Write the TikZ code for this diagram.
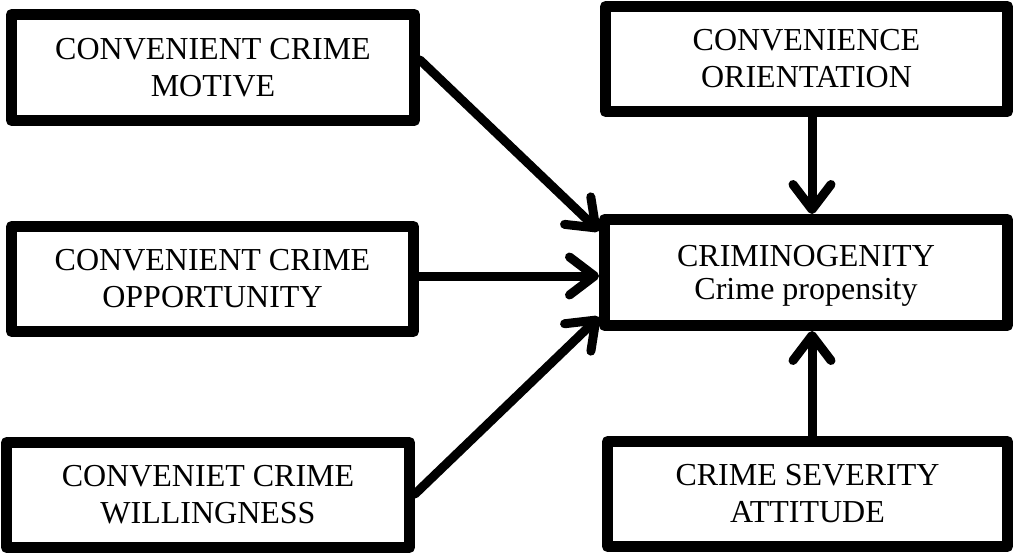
\documentclass[tikz,border=0pt]{standalone}
\usepackage{fontspec}
\setmainfont{Liberation Serif}
\usetikzlibrary{arrows.meta}
\begin{document}
\begin{tikzpicture}[x=1pt,y=-1pt,
  box/.style={draw=black, line width=11pt, line join=round, fill=white,
    minimum width=403pt, minimum height=106pt, inner sep=0pt,
    align=center, font=\fontsize{32}{37}\selectfont},
  arr/.style={line width=9pt, line cap=round,
    -{Straight Barb[length=25pt,width=38pt,line cap=round,line join=round]}}]
\useasboundingbox (0,0) rectangle (1015,554);
\node[box] (A) at (213,67.5) {CONVENIENT CRIME\\MOTIVE};
\node[box, minimum width=402pt, minimum height=105pt] (B) at (212.5,279) {CONVENIENT CRIME\\OPPORTUNITY};
\node[box, minimum height=105pt] (C) at (208,495) {CONVENIET CRIME\\WILLINGNESS};
\node[box, minimum width=402pt, minimum height=105pt] (D) at (806.5,59) {CONVENIENCE\\ORIENTATION};
\node[box, font=\fontsize{32}{33}\selectfont, text depth=0pt] (E) at (806,272.5) {CRIMINOGENITY\\Crime propensity};
\node[box, minimum width=400pt, minimum height=105pt] (F) at (807.5,494) {CRIME SEVERITY\\ATTITUDE};
\draw[arr] ([yshift=7.5pt]A.east) -- ([yshift=41.5pt]E.west);
\draw[arr] ([yshift=3pt]B.east) -- ([yshift=-3.5pt]E.west);
\draw[arr] ([yshift=1pt]C.east) -- ([yshift=-44.5pt]E.west);
\draw[arr] ([xshift=5.5pt]D.south) -- ([xshift=6pt]E.north);
\draw[arr] ([xshift=4.5pt]F.north) -- ([xshift=6pt]E.south);
\end{tikzpicture}
\end{document}
